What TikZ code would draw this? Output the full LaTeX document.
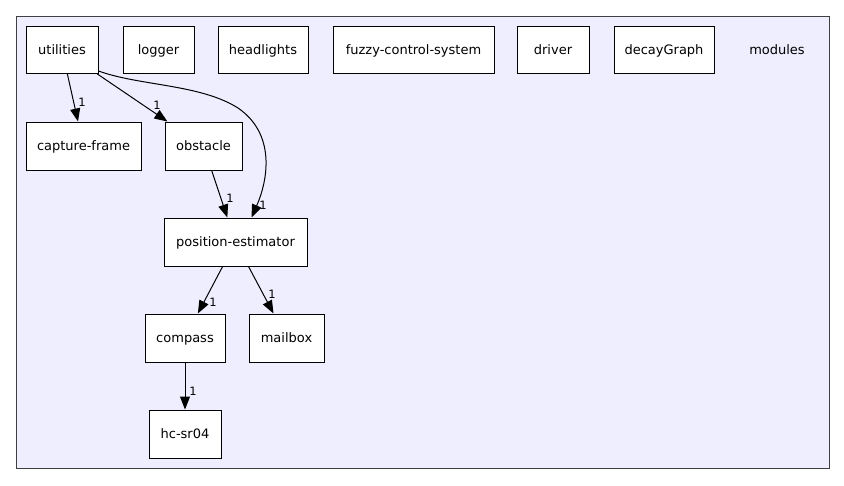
\documentclass[tikz,border=0pt]{standalone}
\usepackage{fontspec}
\setmainfont{DejaVu Sans}
\usetikzlibrary{arrows.meta}
\begin{document}
\begin{tikzpicture}[x=1pt,y=-1pt,
  font=\fontsize{13}{15}\selectfont,
  box/.style={draw=black,fill=white,line width=1pt,rectangle,inner sep=0pt,text height=9pt,text depth=0pt},
  dep/.style={draw=black,line width=1pt,-{Triangle[length=13pt,width=10pt]}},
  lbl/.style={inner sep=0pt,font=\fontsize{11.5}{13}\selectfont}]
\useasboundingbox (0,0) rectangle (844,485);
\node[draw=black!75,fill={rgb,255:red,238;green,238;blue,255},line width=1pt,minimum width=813pt,minimum height=452pt,inner sep=0pt] (cluster) at (422.5,242) {};
\node[inner sep=0pt,text height=9pt,text depth=0pt] (modlbl) at (777,49.5) {modules};
\node[box,minimum width=72pt,minimum height=47pt] (util) at (62,50) {utilities};
\node[box,minimum width=71pt,minimum height=47pt] (logger) at (158.5,50) {logger};
\node[box,minimum width=90pt,minimum height=47pt] (head) at (263,50) {headlights};
\node[box,minimum width=161pt,minimum height=47pt] (fuzzy) at (413.5,50) {fuzzy-control-system};
\node[box,minimum width=72pt,minimum height=47pt] (driver) at (553,50) {driver};
\node[box,minimum width=100pt,minimum height=47pt] (decay) at (664,50) {decayGraph};
\node[box,minimum width=115pt,minimum height=48pt] (cap) at (83.5,146) {capture-frame};
\node[box,minimum width=77pt,minimum height=48pt] (obst) at (203.5,146) {obstacle};
\node[box,minimum width=143pt,minimum height=48pt] (pos) at (235.5,242) {position-estimator};
\node[box,minimum width=80pt,minimum height=48pt] (comp) at (185,338) {compass};
\node[box,minimum width=75pt,minimum height=48pt] (mail) at (286.5,338) {mailbox};
\node[box,minimum width=72pt,minimum height=48pt] (hc) at (185,434) {hc-sr04};
\draw[dep] (util) -- (cap);
\draw[dep] (util) -- (obst);
\draw[dep] ([yshift=3pt]util.south east) .. controls (140,86) and (200,84) .. (238,108) .. controls (276,134) and (268,180) .. ([xshift=16pt]pos.north);
\draw[dep] (obst) -- (pos);
\draw[dep] (pos) -- (comp);
\draw[dep] (pos) -- (mail);
\draw[dep] (comp) -- (hc);
\node[lbl] (l1) at (82,102) {1};
\node[lbl] (l2) at (157,105) {1};
\node[lbl] (l3) at (263,205) {1};
\node[lbl] (l4) at (230,198) {1};
\node[lbl] (l5) at (213,302) {1};
\node[lbl] (l6) at (272,294) {1};
\node[lbl] (l7) at (193,391) {1};
\end{tikzpicture}
\end{document}
